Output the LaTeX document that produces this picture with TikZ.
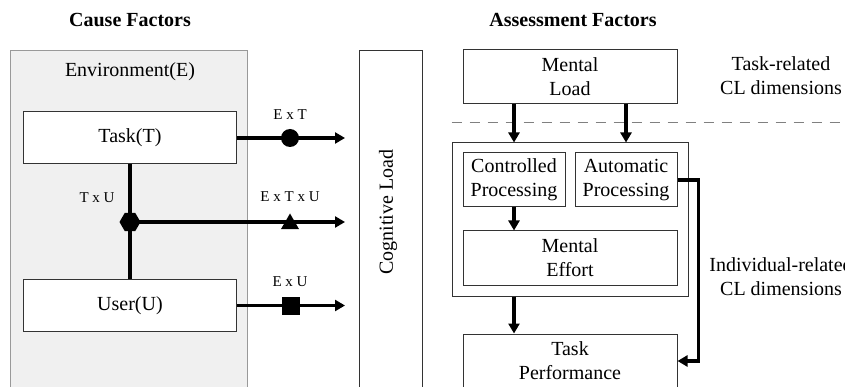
\documentclass[tikz,border=0pt]{standalone}
\usepackage{fontspec}
\setmainfont{Liberation Serif}
\usetikzlibrary{positioning,arrows.meta,shapes.geometric}

\begin{document}
\begin{tikzpicture}[x=1pt,y=-1pt,
  font=\fontsize{20}{24}\selectfont,
  box/.style={draw=black!80,line width=1pt,inner sep=0pt,align=center,fill=white},
  flow/.style={line width=3.5pt,-{Triangle[length=10pt,width=11pt]}},
  lbl/.style={font=\fontsize{15}{18}\selectfont},
  dot/.style={fill=black,inner sep=0pt}]
  \useasboundingbox (0,0) rectangle (845,387);
  \clip (0,0) rectangle (845,387);
  % column titles
  \node[font=\fontsize{20}{24}\selectfont\bfseries] (cause) at (130,20) {Cause Factors};
  \node[font=\fontsize{20}{24}\selectfont\bfseries] (assess) at (573,20) {Assessment Factors};
  % cause side
  \node[draw=black!40,fill=black!6,line width=1pt,minimum width=237pt,minimum height=380pt,
    anchor=north west] (env) at (10,50) {};
  \node (envtext) at (130,72) {Environment(E)};
  \node[box,minimum width=213pt,minimum height=52pt] (task) at (130,138) {Task(T)};
  \node[box,minimum width=213pt,minimum height=52pt] (user) at (130,305.5) {User(U)};
  \node[box,minimum width=63pt,minimum height=380pt,anchor=north west] (cl) at (359,50) {};
  \node[rotate=90] (cltext) at (388,212) {Cognitive Load};
  \node[dot,regular polygon,regular polygon sides=6,minimum size=21pt] (tu) at (130,222) {};
  \draw[line width=3.5pt] (task.south) -- (user.north);
  \draw[flow,shorten >=14pt] (task.east) -- (task.east -| cl.west);
  \draw[flow,shorten >=14pt] (tu.center) -- (tu.center -| cl.west);
  \draw[flow,shorten >=14pt] (user.east) -- (user.east -| cl.west);
  \node[dot,circle,minimum size=18pt] (et) at (290,138) {};
  \node[dot,regular polygon,regular polygon sides=3,minimum size=21pt] (etu) at (290,224) {};
  \node[dot,rectangle,minimum size=18pt] (eu) at (291,306) {};
  \node[lbl] (etlbl) at (290,115) {E x T};
  \node[lbl] (etulbl) at (290,197) {E x T x U};
  \node[lbl] (eulbl) at (290,282) {E x U};
  \node[lbl] (tulbl) at (97,198) {T x U};
  % assessment side
  \node[box,minimum width=214pt,minimum height=54pt] (ml) at (570,77) {Mental\\Load};
  \node[box,minimum width=236pt,minimum height=153pt] (outer) at (570,219.5) {};
  \node[box,minimum width=102pt,minimum height=54pt] (cp) at (514,180) {Controlled\\Processing};
  \node[box,minimum width=102pt,minimum height=54pt] (ap) at (626,180) {Automatic\\Processing};
  \node[box,minimum width=214pt,minimum height=54pt] (me) at (570,258) {Mental\\Effort};
  \node[box,minimum width=214pt,minimum height=54pt] (tp) at (570,361) {Task\\Performance};
  \draw[black!50,line width=1.5pt,dash pattern=on 10pt off 8pt] (outer.west |- 0,122.5) -- ++(400,0);
  \draw[flow] (ml.south -| cp) -- (outer.north -| cp);
  \draw[flow] (ml.south -| ap) -- (outer.north -| ap);
  \draw[flow] (cp.south) -- (me.north -| cp);
  \draw[flow] (outer.south -| cp) -- (tp.north -| cp);
  \draw[flow] (ap.east) -- ++(21,0) |- (tp.east);
  \node[align=center] (taskrel) at (781,76) {Task-related\\CL dimensions};
  \node[align=center] (indrel) at (781,277) {Individual-related\\CL dimensions};
\end{tikzpicture}
\end{document}
